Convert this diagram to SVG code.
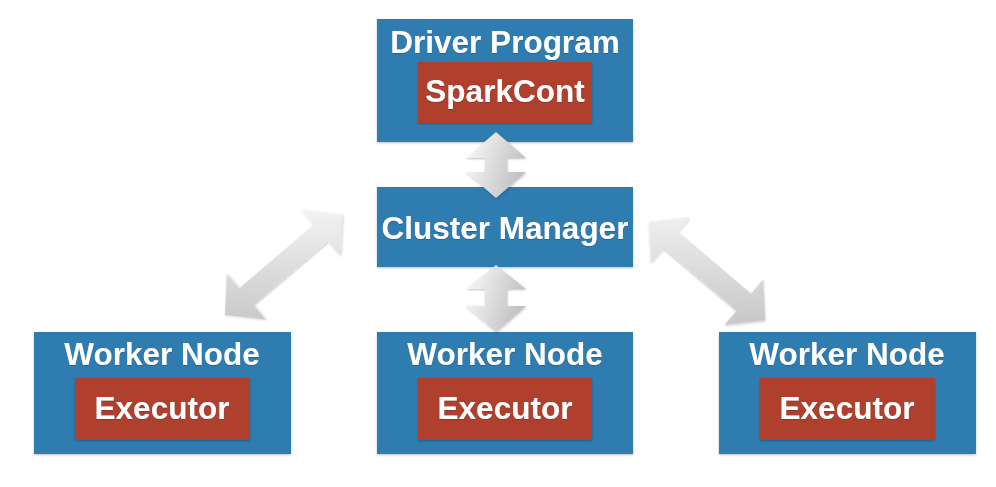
<svg xmlns="http://www.w3.org/2000/svg" width="996" height="487" viewBox="0 0 996 487">
<style>
.box{fill:#2d7bb0;}
.inner{fill:#b0412d;}
.t{font-family:"Liberation Sans",Arial,sans-serif;font-weight:bold;font-size:31.5px;fill:#ffffff;text-anchor:middle;}
.arrow{filter:url(#ash);}
</style>
<defs>
<linearGradient id="agv" x1="0" y1="0" x2="1" y2="0.35">
<stop offset="0" stop-color="#fdfdfd"/>
<stop offset="1" stop-color="#c2c2c2"/>
</linearGradient>
<linearGradient id="agl" gradientUnits="userSpaceOnUse" x1="45" y1="-52" x2="-45" y2="52">
<stop offset="0" stop-color="#f8f8f8"/>
<stop offset="1" stop-color="#c4c4c4"/>
</linearGradient>
<linearGradient id="agr" gradientUnits="userSpaceOnUse" x1="-45" y1="-52" x2="45" y2="52">
<stop offset="0" stop-color="#f4f4f4"/>
<stop offset="1" stop-color="#c2c2c2"/>
</linearGradient>
<filter id="ash" x="-20%" y="-20%" width="140%" height="140%">
<feDropShadow dx="0.5" dy="1" stdDeviation="0.8" flood-color="#000" flood-opacity="0.25"/>
</filter>
<filter id="bsh" x="-5%" y="-5%" width="110%" height="115%">
<feDropShadow dx="0" dy="1" stdDeviation="1" flood-color="#000" flood-opacity="0.25"/>
</filter>
<filter id="tsh" x="-5%" y="-10%" width="110%" height="120%">
<feDropShadow dx="0" dy="0.5" stdDeviation="0.6" flood-color="#1a2a40" flood-opacity="0.6"/>
</filter>
</defs>

<g id="driver">
<rect class="box" x="377" y="19" width="256" height="123" filter="url(#bsh)"/>
<text class="t" x="505" y="53" filter="url(#tsh)">Driver Program</text>
<rect class="inner" x="418" y="62" width="174" height="61" filter="url(#bsh)"/>
<text class="t" x="505" y="102" filter="url(#tsh)">SparkCont</text>
</g>

<g id="cluster">
<rect class="box" x="377" y="187" width="256" height="80" filter="url(#bsh)"/>
<text class="t" x="505" y="239" filter="url(#tsh)">Cluster Manager</text>
</g>

<g id="worker1">
<rect class="box" x="34" y="332" width="257" height="122" filter="url(#bsh)"/>
<text class="t" x="162" y="365" filter="url(#tsh)">Worker Node</text>
<rect class="inner" x="75" y="378" width="175" height="62" filter="url(#bsh)"/>
<text class="t" x="162" y="419" filter="url(#tsh)">Executor</text>
</g>

<g id="worker2">
<rect class="box" x="377" y="332" width="256" height="122" filter="url(#bsh)"/>
<text class="t" x="505" y="365" filter="url(#tsh)">Worker Node</text>
<rect class="inner" x="418" y="378" width="174" height="62" filter="url(#bsh)"/>
<text class="t" x="505" y="419" filter="url(#tsh)">Executor</text>
</g>

<g id="worker3">
<rect class="box" x="719" y="332" width="257" height="122" filter="url(#bsh)"/>
<text class="t" x="847" y="365" filter="url(#tsh)">Worker Node</text>
<rect class="inner" x="760" y="378" width="175" height="62" filter="url(#bsh)"/>
<text class="t" x="847" y="419" filter="url(#tsh)">Executor</text>
</g>

<g id="connectors">
<!-- driver <-> cluster -->
<path class="arrow" fill="url(#agv)" d="M496,132 L526,158 L507,158 L507,172 L526,172 L496,198 L466,172 L485,172 L485,158 L466,158 Z"/>
<!-- cluster <-> middle worker -->
<path class="arrow" fill="url(#agv)" d="M496,265 L526,289 L507,289 L507,306 L526,306 L496,332 L466,306 L485,306 L485,289 L466,289 Z"/>
<!-- cluster <-> left worker -->
<path class="arrow" fill="url(#agl)" transform="translate(283.5,265) rotate(-40.5)" d="M-77,0 L-49,-30 L-49,-11 L49,-11 L49,-30 L77,0 L49,30 L49,11 L-49,11 L-49,30 Z"/>
<!-- cluster <-> right worker -->
<path class="arrow" fill="url(#agr)" transform="translate(707.5,271) rotate(40.4)" d="M-76,0 L-48,-30 L-48,-11 L48,-11 L48,-30 L76,0 L48,30 L48,11 L-48,11 L-48,30 Z"/>
</g>
</svg>
